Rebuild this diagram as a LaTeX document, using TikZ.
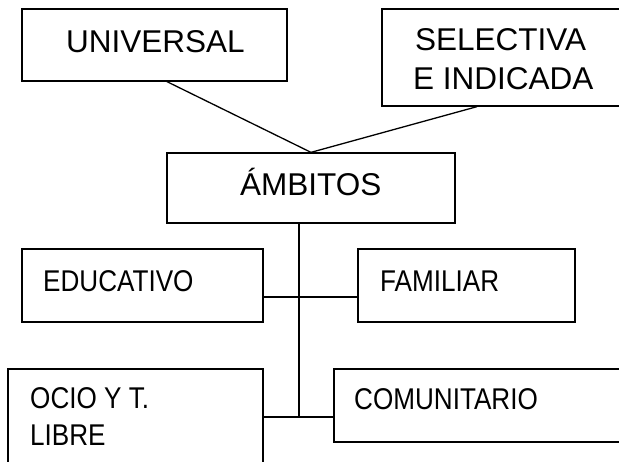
\documentclass[tikz,border=0pt]{standalone}
\usepackage{fontspec}
\setmainfont{Liberation Sans}
\newfontfamily\condfont[FakeStretch=0.87]{Liberation Sans}
\begin{document}
\begin{tikzpicture}[x=1pt,y=-1pt,
  box/.style={draw, line width=1.3pt, rectangle, inner sep=0pt},
  bigtext/.style={font=\fontsize{31.5}{39}\selectfont, anchor=base west, inner sep=0pt},
  smalltext/.style={font=\condfont\fontsize{30}{37}\selectfont, anchor=base west, inner sep=0pt},
  conn/.style={line width=1.3pt}]
\clip (0,0) rectangle (619,461);
% boxes
\node[box, minimum width=265pt, minimum height=72pt] (univ) at (154.5,45) {};
\node[box, minimum width=268pt, minimum height=97pt] (sel) at (516,57.5) {};
\node[box, minimum width=288pt, minimum height=70pt] (amb) at (311,188) {};
\node[box, minimum width=241pt, minimum height=73pt] (edu) at (142.5,285.5) {};
\node[box, minimum width=217pt, minimum height=73pt] (fam) at (466.5,285.5) {};
\node[box, minimum width=255pt, minimum height=131pt] (ocio) at (135.5,434.5) {};
\node[box, minimum width=326pt, minimum height=73pt] (com) at (497,405.5) {};
% texts
\node[bigtext] (tuniv) at (66,52) {UNIVERSAL};
\node[bigtext] (tsel1) at (415,50) {SELECTIVA};
\node[bigtext] (tsel2) at (413,89) {E INDICADA};
\node[bigtext] (tamb) at (240,195) {ÁMBITOS};
\node[smalltext] (tedu) at (43,291) {EDUCATIVO};
\node[smalltext] (tfam) at (380,291) {FAMILIAR};
\node[smalltext] (tocio1) at (30,408) {OCIO Y T.};
\node[smalltext] (tocio2) at (30,445) {LIBRE};
\node[smalltext] (tcom) at (354,409) {COMUNITARIO};
% connectors
\draw[conn] ([xshift=12.5pt]univ.south) -- (amb.north);
\draw[conn] ([xshift=-39pt]sel.south) -- (amb.north);
\coordinate (trunkend) at ([xshift=-12pt]amb.south |- com.west);
\draw[conn] ([xshift=-12pt]amb.south) -- ([yshift=-11.5pt]trunkend);
\draw[conn] ([yshift=-11.5pt]edu.east) -- ([yshift=-11.5pt]edu.east -| fam.west);
\draw[conn] ([yshift=17.5pt]ocio.east) -- ([yshift=17.5pt]ocio.east -| com.west);
\end{tikzpicture}
\end{document}
